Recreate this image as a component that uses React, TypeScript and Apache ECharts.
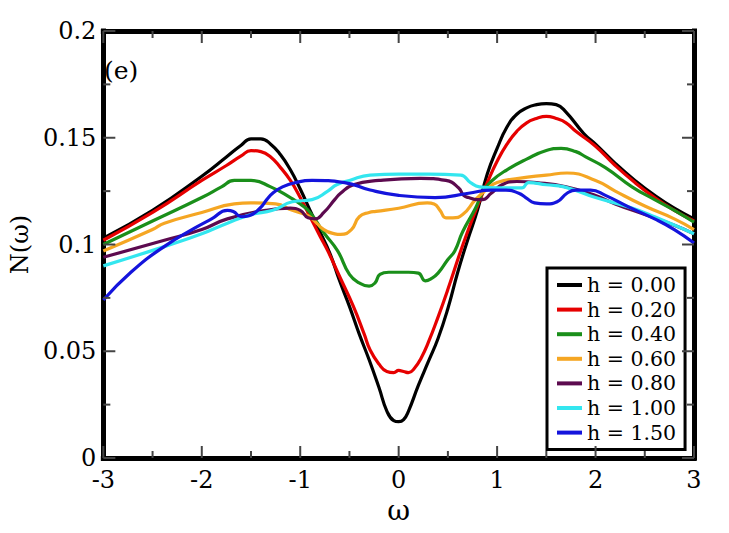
import React, { useEffect, useRef } from "react";
import * as echarts from "echarts";

const FONT = "DejaVu Serif";

// omega values and N(omega) values for each h
const w_h000 = [-3, -2.5, -2, -1.75, -1.6, -1.5, -1.4, -1.3, -1.2, -1.1, -1.0, -0.9, -0.8, -0.7, -0.6, -0.5, -0.4, -0.3, -0.2, -0.12, -0.05, 0, 0.05, 0.1, 0.2, 0.3, 0.4, 0.5, 0.6, 0.7, 0.8, 0.9, 1.0, 1.1, 1.2, 1.3, 1.4, 1.5, 1.6, 1.7, 1.88, 2.0, 2.2, 2.4, 2.6, 2.8, 3.0];
const n_h000 = [0.103, 0.116, 0.132, 0.141, 0.1465, 0.1495, 0.1495, 0.147, 0.142, 0.135, 0.126, 0.116, 0.106, 0.096, 0.083, 0.071, 0.058, 0.046, 0.033, 0.022, 0.0175, 0.017, 0.018, 0.022, 0.034, 0.045, 0.056, 0.070, 0.087, 0.102, 0.116, 0.133, 0.145, 0.155, 0.161, 0.164, 0.1655, 0.166, 0.1655, 0.162, 0.152, 0.147, 0.138, 0.130, 0.123, 0.117, 0.112];

const w_h020 = [-3, -2.5, -2, -1.75, -1.6, -1.5, -1.4, -1.3, -1.2, -1.1, -1.0, -0.9, -0.8, -0.72, -0.6, -0.46, -0.35, -0.29, -0.2, -0.12, -0.05, 0, 0.05, 0.1, 0.16, 0.23, 0.3, 0.4, 0.5, 0.63, 0.7, 0.8, 0.9, 1.0, 1.1, 1.2, 1.3, 1.4, 1.5, 1.6, 1.7, 1.8, 2.0, 2.2, 2.4, 2.6, 2.8, 3.0];
const n_h020 = [0.102, 0.115, 0.130, 0.137, 0.1415, 0.144, 0.1435, 0.141, 0.136, 0.130, 0.122, 0.113, 0.104, 0.097, 0.085, 0.071, 0.058, 0.0506, 0.044, 0.0405, 0.040, 0.041, 0.0405, 0.040, 0.042, 0.047, 0.054, 0.066, 0.079, 0.097, 0.106, 0.118, 0.129, 0.139, 0.147, 0.153, 0.157, 0.159, 0.160, 0.159, 0.157, 0.153, 0.146, 0.137, 0.129, 0.122, 0.116, 0.111];

const w_h040 = [-3, -2.5, -2, -1.8, -1.67, -1.5, -1.3, -1.1, -1.0, -0.9, -0.76, -0.62, -0.5, -0.4, -0.3, -0.24, -0.19, -0.1, 0, 0.1, 0.2, 0.27, 0.33, 0.4, 0.5, 0.57, 0.65, 0.78, 0.86, 0.95, 1.1, 1.3, 1.5, 1.65, 1.8, 1.9, 2.1, 2.37, 2.6, 2.8, 3.0];
const n_h040 = [0.100, 0.111, 0.122, 0.127, 0.130, 0.130, 0.127, 0.122, 0.119, 0.115, 0.1055, 0.097, 0.086, 0.082, 0.0805, 0.082, 0.086, 0.087, 0.087, 0.087, 0.0866, 0.083, 0.084, 0.0866, 0.093, 0.097, 0.106, 0.117, 0.125, 0.130, 0.135, 0.140, 0.1440, 0.145, 0.1435, 0.141, 0.136, 0.127, 0.121, 0.116, 0.1105];

const w_h060 = [-3, -2.5, -2.38, -2, -1.67, -1.5, -1.25, -1.08, -0.95, -0.89, -0.76, -0.65, -0.59, -0.48, -0.4, -0.3, -0.23, 0, 0.29, 0.36, 0.42, 0.48, 0.55, 0.65, 0.78, 0.9, 1.0, 1.22, 1.5, 1.71, 2.0, 2.2, 2.5, 2.8, 3.0];
const n_h060 = [0.097, 0.107, 0.110, 0.115, 0.119, 0.1195, 0.119, 0.116, 0.114, 0.1125, 0.107, 0.105, 0.1047, 0.107, 0.113, 0.115, 0.1155, 0.117, 0.1195, 0.119, 0.116, 0.1125, 0.1125, 0.114, 0.121, 0.126, 0.129, 0.131, 0.1325, 0.1335, 0.130, 0.125, 0.118, 0.112, 0.107];

const w_h080 = [-3, -2.38, -2, -1.74, -1.35, -1.1, -1.0, -0.92, -0.85, -0.76, -0.65, -0.59, -0.46, -0.2, 0.22, 0.48, 0.61, 0.66, 0.71, 0.8, 0.85, 0.94, 1.05, 1.2, 1.4, 1.7, 2.0, 2.2, 2.5, 2.8, 3.0];
const n_h080 = [0.094, 0.102, 0.107, 0.112, 0.116, 0.117, 0.116, 0.1125, 0.112, 0.115, 0.121, 0.124, 0.128, 0.130, 0.131, 0.130, 0.1265, 0.123, 0.122, 0.121, 0.121, 0.124, 0.128, 0.1295, 0.129, 0.127, 0.123, 0.119, 0.114, 0.109, 0.105];

const w_h100 = [-3, -2.38, -2, -1.74, -1.5, -1.28, -1.08, -0.88, -0.72, -0.63, -0.5, -0.29, 0, 0.3, 0.63, 0.73, 0.82, 1.0, 1.25, 1.32, 1.5, 1.68, 2.0, 2.34, 2.6, 3.0];
const n_h100 = [0.090, 0.099, 0.105, 0.110, 0.114, 0.116, 0.120, 0.121, 0.125, 0.128, 0.130, 0.1325, 0.133, 0.133, 0.1325, 0.129, 0.127, 0.1265, 0.1265, 0.129, 0.128, 0.127, 0.122, 0.1175, 0.113, 0.105];

const w_h150 = [-3, -2.72, -2.39, -2.06, -1.9, -1.74, -1.68, -1.6, -1.52, -1.41, -1.34, -1.28, -1.18, -1.05, -0.88, -0.55, -0.29, 0, 0.37, 0.71, 0.94, 1.09, 1.22, 1.29, 1.38, 1.5, 1.61, 1.71, 1.8, 1.95, 2.1, 2.34, 2.6, 2.8, 3.0];
const n_h150 = [0.074, 0.087, 0.0988, 0.108, 0.112, 0.116, 0.1155, 0.113, 0.1135, 0.117, 0.121, 0.124, 0.127, 0.129, 0.130, 0.129, 0.1255, 0.123, 0.122, 0.124, 0.1255, 0.1255, 0.124, 0.122, 0.1195, 0.119, 0.120, 0.124, 0.1255, 0.1255, 0.123, 0.1175, 0.112, 0.107, 0.1007];

const seriesNames = ["h = 0.00", "h = 0.20", "h = 0.40", "h = 0.60", "h = 0.80", "h = 1.00", "h = 1.50"];
const seriesColors = ["#000000", "#e60000", "#1a8f1a", "#f5a623", "#5c0a4f", "#33e6ef", "#1414dc"];
const seriesX = [w_h000, w_h020, w_h040, w_h060, w_h080, w_h100, w_h150];
const seriesY = [n_h000, n_h020, n_h040, n_h060, n_h080, n_h100, n_h150];

const X_MIN = -3, X_MAX = 3, X_STEP = 1;
const Y_MIN = 0, Y_MAX = 0.2, Y_STEP = 0.05;
// tick positions (major + minor) for the inward ticks on all four sides
const xTickVals = [-3, -2.5, -2, -1.5, -1, -0.5, 0, 0.5, 1, 1.5, 2, 2.5, 3];
const yTickVals = [0, 0.025, 0.05, 0.075, 0.1, 0.125, 0.15, 0.175, 0.2];

const W = 729, H = 533;
const GRID = { left: 85, right: 35, top: 31, bottom: 75 };

export default function App() {
  const ref = useRef<HTMLDivElement>(null);
  useEffect(() => {
    if (!ref.current) return;
    const chart = echarts.init(ref.current, null, { renderer: "svg" });
    const common = {
      type: "value" as const,
      axisLine: { show: true, onZero: false, lineStyle: { color: "#000", width: 5, cap: "square" } },
      splitLine: { show: false },
      axisTick: { show: false },
      minorTick: { show: false },
    };
    const labelStyle = { fontSize: 24, color: "#000", fontFamily: FONT };
    const baseGraphic = [
      { type: "text", left: 104, top: 58, style: { text: "(e)", fontSize: 25, fontFamily: FONT, fill: "#000" } },
    ];
    chart.setOption({
      animation: false,
      backgroundColor: "#fff",
      grid: GRID,
      xAxis: [
        {
          ...common, min: X_MIN, max: X_MAX, interval: X_STEP, position: "bottom",
          axisLabel: { ...labelStyle, margin: 10 },
          name: "ω", nameLocation: "middle", nameGap: 30,
          nameTextStyle: { fontSize: 28, color: "#000", fontFamily: FONT },
        },
        { ...common, min: X_MIN, max: X_MAX, interval: X_STEP, position: "top", axisLabel: { show: false } },
      ],
      yAxis: [
        {
          ...common, min: Y_MIN, max: Y_MAX, interval: Y_STEP, position: "left",
          axisLabel: { ...labelStyle, margin: 7 },
          name: "N(ω)", nameLocation: "middle", nameGap: 52, nameRotate: 90,
          nameTextStyle: { fontSize: 24, color: "#000", fontFamily: FONT },
        },
        { ...common, min: Y_MIN, max: Y_MAX, interval: Y_STEP, position: "right", axisLabel: { show: false } },
      ],
      legend: {
        left: 547, top: 268, orient: "vertical",
        borderColor: "#000", borderWidth: 3, backgroundColor: "#fff",
        padding: [6, 9, 6, 10], itemGap: 2.6, itemWidth: 25, itemHeight: 4,
        icon: "rect",
        textStyle: { fontSize: 20.5, lineHeight: 22, color: "#000", fontFamily: FONT },
        data: seriesNames,
      },
      graphic: baseGraphic,
      series: seriesNames.map((name, i) => ({
        name, type: "line", xAxisIndex: 0, yAxisIndex: 0,
        data: seriesX[i].map((x, j) => [x, seriesY[i][j]]),
        showSymbol: false, symbol: "none", smooth: 0.5,
        lineStyle: { color: seriesColors[i], width: 3.2 },
        itemStyle: { color: seriesColors[i] },
        clip: true,
      })),
    });

    // inward ticks on all four sides, drawn as thin filled rects placed through the chart's scales
    const isMajor = (v: number, s: number) => Math.abs(v / s - Math.round(v / s)) < 1e-6;
    const toPx = (p: number[]) => chart.convertToPixel({ gridIndex: 0 }, p) as number[];
    const fill = { fill: "#444" };
    const T = 2; // tick thickness
    const ticks: any[] = [];
    xTickVals.forEach((v) => {
      const L = isMajor(v, X_STEP) ? 12 : 7;
      const b = toPx([v, Y_MIN]);
      const t = toPx([v, Y_MAX]);
      ticks.push({ type: "rect", silent: true, z: 100, shape: { x: b[0] - T / 2, y: b[1] - L, width: T, height: L }, style: fill });
      ticks.push({ type: "rect", silent: true, z: 100, shape: { x: t[0] - T / 2, y: t[1], width: T, height: L }, style: fill });
    });
    yTickVals.forEach((v) => {
      const L = isMajor(v, Y_STEP) ? 12 : 7;
      const l = toPx([X_MIN, v]);
      const r = toPx([X_MAX, v]);
      ticks.push({ type: "rect", silent: true, z: 100, shape: { x: l[0], y: l[1] - T / 2, width: L, height: T }, style: fill });
      ticks.push({ type: "rect", silent: true, z: 100, shape: { x: r[0] - L, y: r[1] - T / 2, width: L, height: T }, style: fill });
    });
    chart.setOption({ graphic: [...baseGraphic, ...ticks] }, { replaceMerge: ["graphic"] });

    return () => chart.dispose();
  }, []);
  return <div ref={ref} style={{ position: "absolute", left: 0, top: 0, width: W, height: H }} />;
}
